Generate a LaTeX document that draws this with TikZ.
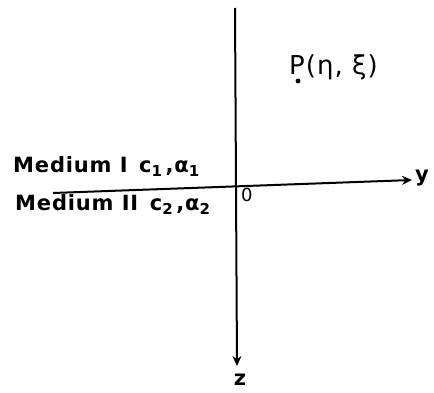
\documentclass[tikz,border=0pt]{standalone}
\usepackage{fontspec}
\setmainfont{DejaVu Sans}
\newfontfamily\widefont[LetterSpace=4]{DejaVu Sans}
\usetikzlibrary{arrows.meta}
\newcommand{\sbs}[1]{\raisebox{-4pt}{\fontsize{15}{16}\selectfont #1}}
\tikzset{
  axis/.style={line width=2pt,-{Stealth[length=10pt,width=9pt]}},
  lbl/.style={inner sep=0pt,font=\widefont\fontsize{21}{24}\selectfont\bfseries},
}
\begin{document}
\begin{tikzpicture}[x=1pt,y=-1pt]
\useasboundingbox (0,0) rectangle (434,393);
\coordinate (ystart) at (53,193);
\coordinate (yend) at (412,180);
\coordinate (ztop) at (235,8);
\coordinate (zend) at (237,366);
\draw[axis] (ystart) -- (yend);
\draw[axis] (ztop) -- (zend);
\node[lbl,anchor=west] (ylab) at (415,178) {y};
\node[lbl] (zlab) at (240,380) {z};
\node[lbl,anchor=north west,font=\fontsize{18}{20}\selectfont] (o) at (241,188) {0};
\node[lbl,anchor=west] (m1) at (13,167) {Medium I\, c\sbs{1}\,,α\sbs{1}};
\node[lbl,anchor=west] (m2) at (15,205) {Medium II\, c\sbs{2}\,,α\sbs{2}};
\fill (298,81) circle (2.4pt);
\node[lbl,anchor=west,font=\widefont\fontsize{26}{28}\selectfont] (p) at (289,67) {P(η, ξ)};
\end{tikzpicture}
\end{document}
